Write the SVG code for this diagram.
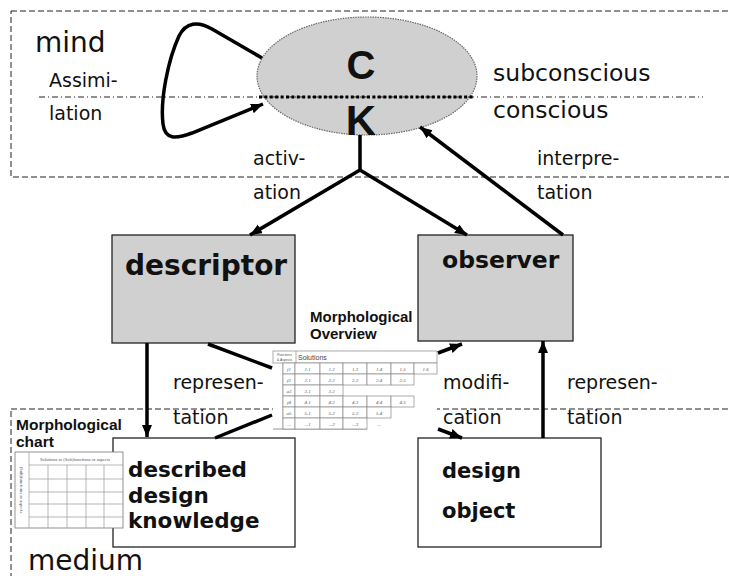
<svg xmlns="http://www.w3.org/2000/svg" width="729" height="576" viewBox="0 0 729 576">
<style>
.zone{fill:none;stroke:#222;stroke-width:1;stroke-dasharray:6 3}
.box{fill:#d0d0d0;stroke:#222;stroke-width:1.3}
.wbox{fill:#fff;stroke:#222;stroke-width:1.3}
.lbl{font-family:"DejaVu Sans",Verdana,sans-serif;fill:#111}
.big{font-family:"DejaVu Sans",Verdana,sans-serif;font-weight:bold;fill:#111}
.ar{font-family:"Liberation Sans",Arial,sans-serif;font-weight:bold;fill:#111}
.con{fill:none;stroke:#000;stroke-width:3.5}
.tb{fill:#fff;stroke:#888;stroke-width:0.7}
.tt{font-family:"Liberation Serif",serif;font-style:italic;font-size:5px;fill:#555}
</style>
<defs>
<marker id="ah" markerUnits="userSpaceOnUse" markerWidth="14" markerHeight="12" refX="12" refY="5" orient="auto">
<path d="M0,0 L12,5 L0,10 z" fill="#000"/>
</marker>
</defs>
<rect width="729" height="576" fill="#fff"/>

<g id="mind-zone">
<rect class="zone" x="11" y="11" width="740" height="166"/>
<text class="lbl" x="35" y="52" font-size="28">mind</text>
<text class="lbl" x="49" y="87" font-size="19">Assimi-</text>
<text class="lbl" x="49" y="120" font-size="19">lation</text>
<text class="lbl" x="493" y="81" font-size="23.5">subconscious</text>
<text class="lbl" x="493" y="118" font-size="23.5">conscious</text>
</g>

<g id="medium-zone">
<rect class="zone" x="11" y="409" width="740" height="200"/>
<text class="lbl" x="28" y="570" font-size="28">medium</text>
</g>

<g id="ck">
<ellipse cx="367" cy="76" rx="110" ry="59" fill="#d0d0d0" stroke="#666" stroke-width="1.2" stroke-dasharray="1.5 1"/>
<line x1="39" y1="97" x2="703" y2="97" stroke="#222" stroke-width="1" stroke-dasharray="6 3 1 3"/>
<line x1="259" y1="97" x2="474" y2="97" stroke="#000" stroke-width="3" stroke-dasharray="3 2.4"/>
<text class="ar" x="361" y="79" font-size="40" text-anchor="middle">C</text>
<text class="ar" x="361" y="135" font-size="42" text-anchor="middle">K</text>
</g>

<g id="descriptor">
<rect class="box" x="112" y="235" width="183" height="108"/>
<text class="big" x="125" y="275" font-size="28">descriptor</text>
</g>

<g id="observer">
<rect class="box" x="418" y="235" width="155" height="106"/>
<text class="big" x="442" y="268" font-size="23.5">observer</text>
</g>

<g id="described-design-knowledge">
<rect class="wbox" x="113" y="438" width="182" height="109"/>
<text class="big" x="128" y="477" font-size="21.5">described</text>
<text class="big" x="128" y="503" font-size="21.5">design</text>
<text class="big" x="128" y="528" font-size="21.5">knowledge</text>
</g>

<g id="design-object">
<rect class="wbox" x="418" y="438" width="183" height="109"/>
<text class="big" x="442" y="478" font-size="21">design</text>
<text class="big" x="442" y="518" font-size="21">object</text>
</g>

<g id="morphological-chart">
<text class="ar" x="16" y="430" font-size="15.5">Morphological</text>
<text class="ar" x="16" y="447" font-size="15.5">chart</text>
<rect x="15" y="452" width="108" height="76" fill="#fff" stroke="#777" stroke-width="0.8"/>
<g stroke="#999" stroke-width="0.7">
<line x1="29" y1="452" x2="29" y2="528"/>
<line x1="29" y1="465" x2="123" y2="465"/>
<line x1="29" y1="479" x2="123" y2="479"/>
<line x1="29" y1="492" x2="123" y2="492"/>
<line x1="29" y1="504" x2="123" y2="504"/>
<line x1="29" y1="517" x2="123" y2="517"/>
<line x1="48" y1="465" x2="48" y2="528"/>
<line x1="67" y1="465" x2="67" y2="528"/>
<line x1="86" y1="465" x2="86" y2="528"/>
<line x1="104" y1="465" x2="104" y2="528"/>
</g>
<text x="75" y="461" font-family="Liberation Serif,serif" font-size="4.6" fill="#555" text-anchor="middle">Solutions to (Sub)functions or aspects</text>
<text transform="translate(19.5,490) rotate(90)" font-family="Liberation Serif,serif" font-size="4.6" fill="#555" text-anchor="middle">(Sub)functions or aspects</text>
</g>

<g id="morphological-overview">
<text class="ar" x="310" y="322" font-size="15">Morphological</text>
<text class="ar" x="310" y="339" font-size="15">Overview</text>
<rect x="273" y="351" width="164" height="78" fill="#fff"/>
<rect class="tb" x="273" y="351" width="164" height="12"/>
<line x1="296" y1="351" x2="296" y2="363" stroke="#888" stroke-width="0.7"/>
<text x="284.5" y="356" font-family="Liberation Sans,sans-serif" font-size="3.4" fill="#555" text-anchor="middle">Functions</text>
<text x="284.5" y="360.5" font-family="Liberation Sans,sans-serif" font-size="3.4" fill="#555" text-anchor="middle">&amp; Aspects</text>
<text x="298" y="359.5" font-family="Liberation Sans,sans-serif" font-size="7" fill="#444">Solutions</text>
<line x1="283" y1="363" x2="283" y2="429" stroke="#888" stroke-width="0.7"/>
<line x1="273" y1="429" x2="367" y2="429" stroke="#888" stroke-width="0.9"/>
<g>
<rect class="tb" x="283" y="363" width="12" height="11"/><rect class="tb" x="295" y="363" width="25" height="11"/><rect class="tb" x="320" y="363" width="23" height="11"/><rect class="tb" x="343" y="363" width="24" height="11"/><rect class="tb" x="367" y="363" width="24" height="11"/><rect class="tb" x="391" y="363" width="23" height="11"/><rect class="tb" x="414" y="363" width="23" height="11"/>
<rect class="tb" x="283" y="374" width="12" height="11"/><rect class="tb" x="295" y="374" width="25" height="11"/><rect class="tb" x="320" y="374" width="23" height="11"/><rect class="tb" x="343" y="374" width="24" height="11"/><rect class="tb" x="367" y="374" width="24" height="11"/><rect class="tb" x="391" y="374" width="23" height="11"/>
<rect class="tb" x="283" y="385" width="12" height="11"/><rect class="tb" x="295" y="385" width="25" height="11"/><rect class="tb" x="320" y="385" width="23" height="11"/>
<rect class="tb" x="283" y="396" width="12" height="11"/><rect class="tb" x="295" y="396" width="25" height="11"/><rect class="tb" x="320" y="396" width="23" height="11"/><rect class="tb" x="343" y="396" width="24" height="11"/><rect class="tb" x="367" y="396" width="24" height="11"/><rect class="tb" x="391" y="396" width="23" height="11"/>
<rect class="tb" x="283" y="407" width="12" height="11"/><rect class="tb" x="295" y="407" width="25" height="11"/><rect class="tb" x="320" y="407" width="23" height="11"/><rect class="tb" x="343" y="407" width="24" height="11"/><rect class="tb" x="367" y="407" width="24" height="11"/>
<rect class="tb" x="283" y="418" width="12" height="11"/><rect class="tb" x="295" y="418" width="25" height="11"/><rect class="tb" x="320" y="418" width="23" height="11"/><rect class="tb" x="343" y="418" width="24" height="11"/>
</g>
<g class="tt" text-anchor="middle">
<text x="289" y="370.5">f1</text><text x="307.5" y="370.5">1.1</text><text x="331.5" y="370.5">1.2</text><text x="355" y="370.5">1.3</text><text x="379" y="370.5">1.4</text><text x="402.5" y="370.5">1.5</text><text x="425.5" y="370.5">1.6</text>
<text x="289" y="381.5">f2</text><text x="307.5" y="381.5">2.1</text><text x="331.5" y="381.5">2.2</text><text x="355" y="381.5">2.3</text><text x="379" y="381.5">2.4</text><text x="402.5" y="381.5">2.5</text>
<text x="289" y="392.5">a3</text><text x="307.5" y="392.5">3.1</text><text x="331.5" y="392.5">3.2</text>
<text x="289" y="403.5">f4</text><text x="307.5" y="403.5">4.1</text><text x="331.5" y="403.5">4.2</text><text x="355" y="403.5">4.3</text><text x="379" y="403.5">4.4</text><text x="402.5" y="403.5">4.5</text>
<text x="289" y="414.5">a5</text><text x="307.5" y="414.5">5.1</text><text x="331.5" y="414.5">5.2</text><text x="355" y="414.5">5.3</text><text x="379" y="414.5">5.4</text>
<text x="289" y="425.5">...</text><text x="307.5" y="425.5">...1</text><text x="331.5" y="425.5">...2</text><text x="355" y="425.5">...3</text><text x="379" y="425.5">...</text>
</g>
</g>

<g id="connectors">
<path class="con" d="M262,58 L212,29 C198,21 186,22 179,36 C168,60 160,100 163,124 C165,140 176,139 192,133 L263,104" marker-end="url(#ah)"/>
<polyline class="con" points="360,135 360,170"/>
<line class="con" x1="360" y1="170" x2="250" y2="235" marker-end="url(#ah)"/>
<line class="con" x1="360" y1="170" x2="467" y2="235" marker-end="url(#ah)"/>
<line class="con" x1="563" y1="235" x2="420" y2="127" marker-end="url(#ah)"/>
<line class="con" x1="147" y1="343" x2="147" y2="437" marker-end="url(#ah)"/>
<line class="con" x1="208" y1="344" x2="272" y2="368"/>
<line class="con" x1="272" y1="415" x2="215" y2="438"/>
<line class="con" x1="438" y1="353" x2="462" y2="344" marker-end="url(#ah)"/>
<line class="con" x1="438" y1="429" x2="462" y2="438" marker-end="url(#ah)"/>
<line class="con" x1="543" y1="438" x2="543" y2="341" marker-end="url(#ah)"/>
</g>

<g id="connector-labels">
<text class="lbl" x="253" y="165" font-size="19">activ-</text>
<text class="lbl" x="253" y="199" font-size="19">ation</text>
<text class="lbl" x="537" y="165" font-size="19">interpre-</text>
<text class="lbl" x="537" y="199" font-size="19">tation</text>
<text class="lbl" x="173" y="389" font-size="19">represen-</text>
<text class="lbl" x="173" y="424" font-size="19">tation</text>
<text class="lbl" x="443" y="389" font-size="19">modifi-</text>
<text class="lbl" x="443" y="424" font-size="19">cation</text>
<text class="lbl" x="567" y="389" font-size="19">represen-</text>
<text class="lbl" x="567" y="424" font-size="19">tation</text>
</g>
</svg>
